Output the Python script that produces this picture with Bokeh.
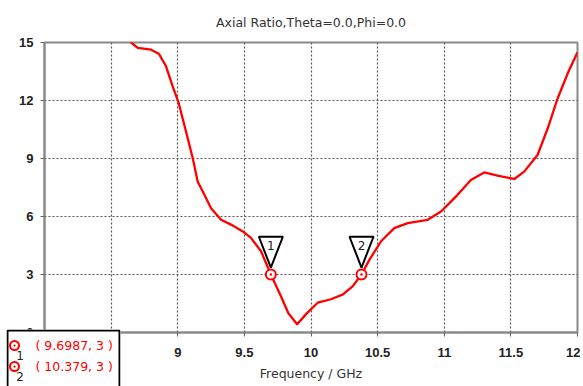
from bokeh.plotting import figure
from bokeh.models import Range1d, FixedTicker, BoxAnnotation
from bokeh.layouts import column
from bokeh.core.properties import value
from bokeh.embed import file_html
from bokeh.resources import INLINE

# ---------------- data ----------------
freq = [8.62, 8.65, 8.70, 8.80, 8.86, 8.91, 8.96, 9.005, 9.063, 9.113, 9.15,
        9.20, 9.25, 9.325, 9.40, 9.488, 9.55, 9.625, 9.6987, 9.776, 9.83,
        9.896, 9.963, 10.05, 10.15, 10.24, 10.314, 10.379, 10.44, 10.526,
        10.625, 10.726, 10.876, 10.976, 11.10, 11.20, 11.30, 11.40, 11.526,
        11.60, 11.70, 11.776, 11.85, 11.93, 12.0]
axial_ratio = [15.4, 15.0, 14.72, 14.63, 14.4, 13.8, 12.77, 11.92, 10.37, 9.0,
               7.8, 7.12, 6.43, 5.83, 5.58, 5.23, 4.89, 4.2, 3.0, 1.85, 1.0,
               0.43, 0.95, 1.54, 1.72, 1.97, 2.4, 3.0, 3.78, 4.72,
               5.40, 5.66, 5.83, 6.26, 7.12, 7.89, 8.28, 8.11, 7.94,
               8.32, 9.18, 10.55, 12.09, 13.46, 14.49]
marker_x = [9.6987, 10.379]
marker_y = [3, 3]
marker_ids = ["1", "2"]
legend_texts = ["( 9.6987, 3 )", "( 10.379, 3 )"]
x_ticks = [8, 8.5, 9, 9.5, 10, 10.5, 11, 11.5, 12]
x_tick_labels = ["8", "8.5", "9", "9.5", "10", "10.5", "11", "11.5", "12"]
y_ticks = [0, 3, 6, 9, 12, 15]
title_text = "Axial Ratio,Theta=0.0,Phi=0.0"
x_label = "Frequency / GHz"

# ---------------- layout ----------------
W, H = 580, 386
ML, MR, MT, MB = 44, 3, 40, 54
X0, X1, Y0, Y1 = 8, 12, 0, 15
FW, FH = W - ML - MR, H - MT - MB
ppx = FW / (X1 - X0)
ppy = FH / (Y1 - Y0)

TXT = "DejaVu Sans"

p = figure(width=W, height=H, output_backend="svg", toolbar_location=None,
           x_range=Range1d(X0, X1), y_range=Range1d(Y0, Y1),
           min_border_left=ML, min_border_right=MR, min_border_top=MT,
           min_border_bottom=MB, title=title_text)
p.background_fill_color = "white"
p.border_fill_color = "white"
p.outline_line_color = "#8a8a8a"
p.outline_line_width = 2

p.title.align = "center"
p.title.text_font = TXT
p.title.text_font_size = "12.5px"
p.title.text_font_style = "normal"
p.title.text_color = "#333333"
p.title.standoff = 25

p.xaxis.ticker = FixedTicker(ticks=x_ticks)
p.xaxis.major_label_overrides = {t: l for t, l in zip(x_ticks, x_tick_labels)}
p.yaxis.ticker = FixedTicker(ticks=y_ticks)
for ax in (p.xaxis, p.yaxis):
    ax.axis_line_color = "#8a8a8a"
    ax.axis_line_width = 2
    ax.major_tick_in = 0
    ax.major_tick_out = 4
    ax.major_tick_line_color = "#666666"
    ax.minor_tick_line_color = None
    ax.major_label_text_font = "Liberation Sans"
    ax.major_label_text_font_style = "bold"
    ax.major_label_text_font_size = "13px"
    ax.major_label_text_color = "#222222"
p.xaxis.major_label_standoff = 11
p.yaxis.major_label_standoff = 7
p.xaxis.axis_label = x_label
p.xaxis.axis_label_text_font = TXT
p.xaxis.axis_label_text_font_size = "12.5px"
p.xaxis.axis_label_text_font_style = "normal"
p.xaxis.axis_label_text_color = "#333333"
p.xaxis.axis_label_standoff = 6

p.grid.grid_line_color = "#555555"
p.grid.grid_line_dash = "2 2"
p.grid.grid_line_width = 1.2

# curve
p.line(freq, axial_ratio, line_color="#ff0000", line_width=2.3,
       line_join="round")

# marker flags (pixel sizes converted to data units)
tri_xs = [[x - 12 / ppx, x + 12 / ppx, x] for x in marker_x]
tri_ys = [[y + 38 / ppy, y + 38 / ppy, y + 7 / ppy] for y in marker_y]
p.patches(tri_xs, tri_ys, fill_color="white", line_color="black",
          line_width=2)
p.text(marker_x, marker_y, text=marker_ids, y_offset=-29,
       text_align="center", text_baseline="middle",
       text_font=value(TXT), text_font_size="12px", text_color="#222222")
p.scatter(marker_x, marker_y, marker="circle_dot", size=10,
          line_color="#ff0000", fill_color="white", line_width=2)

# ---------------- marker table (overlaid box at lower left) ----------------
# the column aligns plot frames, so q inherits p's side borders (ML, MR);
# they are made transparent and compensated with the left margin.
BW, BH = 114, 57
BOX_LEFT, BOX_TOP = 6, 329
ROW0, ROW_STEP = 16, 21
rows = [ROW0 + ROW_STEP * i for i in range(len(legend_texts))]

q = figure(width=BW + ML + MR, height=BH, output_backend="svg",
           toolbar_location=None,
           x_range=Range1d(0, BW), y_range=Range1d(BH, 0),
           x_axis_type=None, y_axis_type=None,
           min_border_left=ML, min_border_right=MR,
           min_border_top=0, min_border_bottom=0)
q.grid.visible = False
q.outline_line_color = None
q.background_fill_color = "white"
q.border_fill_alpha = 0
q.margin = (BOX_TOP - H, 0, 0, BOX_LEFT - ML)

q.add_layout(BoxAnnotation(left=1, right=BW - 1, top=1, bottom=BH + 10,
                           fill_color=None, fill_alpha=0,
                           line_color="black", line_alpha=1,
                           line_width=2))
q.scatter([8] * len(rows), rows, marker="circle_dot", size=9,
          line_color="#ff0000", fill_color="white", line_width=2)
q.text([29] * len(rows), rows, text=legend_texts, text_baseline="middle",
       text_font=value(TXT), text_font_size="12.5px", text_color="#ff0000")
q.text([13.5] * len(rows), [r + 10 for r in rows], text=marker_ids,
       text_align="center", text_baseline="middle",
       text_font=value(TXT), text_font_size="12px", text_color="#222222")

layout = column(p, q, spacing=0)
open("out.html", "w").write(file_html(layout, INLINE))
